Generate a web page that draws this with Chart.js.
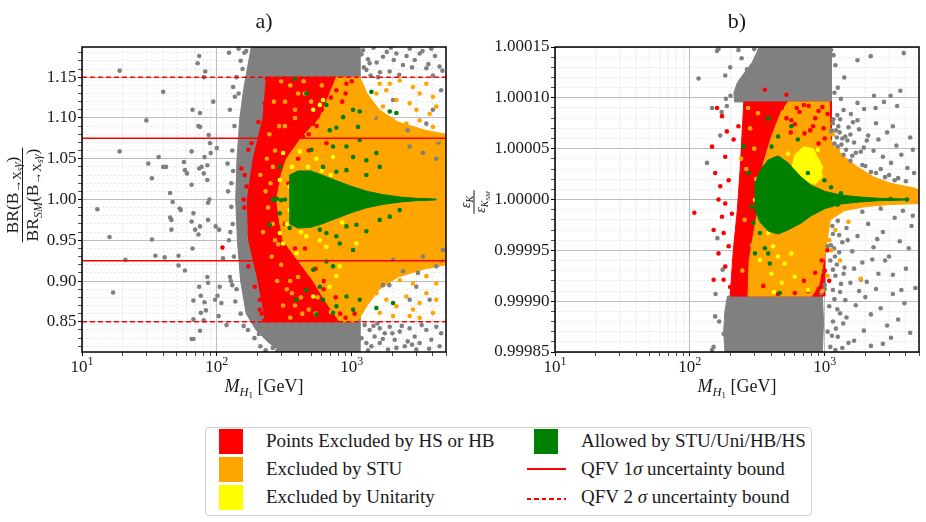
<!DOCTYPE html>
<html>
<head>
<meta charset="utf-8">
<title>BR(B→Xsγ) and εK ratios vs M_H1</title>
<script src="https://cdn.jsdelivr.net/npm/chart.js@4.4.1/dist/chart.umd.min.js"></script>
<style>
  html, body { margin: 0; padding: 0; background: #fff; }
  body { position: relative; width: 926px; height: 522px; overflow: hidden;
         font-family: 'Liberation Serif', 'DejaVu Serif', serif; color: #1a1a1a; }
  .panel { position: absolute; top: 0; height: 410px; }
  #legend { position: absolute; left: 205px; top: 427px; width: 607px; height: 89px;
            box-sizing: border-box; border: 1px solid #d0d0d0; border-radius: 4px; }
  .sw { position: absolute; width: 24px; height: 25px; }
  .lab { position: absolute; font-size: 19px; line-height: 22px; white-space: nowrap; }
  .smp { position: absolute; width: 39px; height: 1.6px; }
</style>
</head>
<body>
<div class="panel" style="left:0;width:460px"><canvas id="chartA"></canvas></div>
<div class="panel" style="left:460px;width:466px"><canvas id="chartB"></canvas></div>

<div id="legend"></div>
<div class="sw" style="left:219px;top:429px;background:#ff0000"></div>
<div class="sw" style="left:219px;top:457px;background:#ffa500"></div>
<div class="sw" style="left:219px;top:485px;background:#ffff00"></div>
<div class="sw" style="left:534px;top:429px;background:#008000"></div>
<div class="smp" style="left:527px;top:468px;background:#ff0000"></div>
<div class="smp" style="left:527px;top:498px;background:repeating-linear-gradient(90deg,#ff0000 0 4.5px,transparent 4.5px 7.5px)"></div>
<div class="lab" style="left:266px;top:430px">Points Excluded by HS or HB</div>
<div class="lab" style="left:266px;top:458px">Excluded by STU</div>
<div class="lab" style="left:266px;top:486px">Excluded by Unitarity</div>
<div class="lab" style="left:581px;top:430px">Allowed by STU/Uni/HB/HS</div>
<div class="lab" style="left:581px;top:458px">QFV 1<i>σ</i> uncertainty bound</div>
<div class="lab" style="left:581px;top:486px">QFV 2 <i>σ</i> uncertainty bound</div>

<script>
const SERIF = "'Liberation Serif', 'DejaVu Serif', serif";
Chart.defaults.font.family = SERIF;
Chart.defaults.color = '#1a1a1a';
const C_GRAY = '#808080', C_RED = '#ff0000', C_ORANGE = '#ffa500', C_YELLOW = '#ffff00', C_GREEN = '#008000';

// shared x axis: M_H1 in GeV, log scale
const xRange = [10, 5000];
const xTickValues = [10, 20, 30, 40, 50, 60, 70, 80, 90, 100, 200, 300, 400, 500, 600, 700, 800, 900,
                     1000, 2000, 3000, 4000, 5000];
const xMajorValues = [10, 100, 1000];
const xMajorExponents = ['1', '2', '3'];   // labels 10^1, 10^2, 10^3

// ---------- panel a) : BR(B->Xs gamma) / BR_SM ----------
const yRangeA = [0.813, 1.187];
const yGridA = [0.82, 0.83, 0.84, 0.85, 0.86, 0.87, 0.88, 0.89, 0.90, 0.91, 0.92, 0.93, 0.94, 0.95, 0.96,
                0.97, 0.98, 0.99, 1.00, 1.01, 1.02, 1.03, 1.04, 1.05, 1.06, 1.07, 1.08, 1.09, 1.10, 1.11,
                1.12, 1.13, 1.14, 1.15, 1.16, 1.17, 1.18];
const yMajorA = [0.85, 0.90, 0.95, 1.00, 1.05, 1.10, 1.15];
const yLabelsA = ['0.85', '0.90', '0.95', '1.00', '1.05', '1.10', '1.15'];
const qfv1A = [0.925, 1.075];
const qfv2A = [0.85, 1.15];

// outlines of the regions that are solid with points
const grayBandA = [[180,1.187],[1150,1.187],[1150,0.813],[300,0.813],[240,0.825],[195,0.84],[165,0.86],
  [150,0.9],[142,0.95],[138,1.0],[141,1.05],[148,1.1],[158,1.135],[168,1.16]];
const redZoneA = [[233,1.15],[1000,1.15],[1000,0.85],[230,0.85],[202,0.9],[172,0.95],[168,1.0],
  [186,1.05],[220,1.1]];
const orangeZoneA = [[277,1.0],[300,1.03],[328,1.05],[420,1.075],[580,1.1],[769,1.15],[1150,1.15],
  [1300,1.13],[1600,1.11],[2200,1.095],[3500,1.085],[5000,1.08],[5000,0.92],[3500,0.915],[2200,0.905],
  [1600,0.89],[1300,0.87],[1100,0.85],[815,0.85],[640,0.875],[518,0.9],[400,0.925],[309,0.95],[290,0.975]];
const greenZoneA = [[347,1.03],[400,1.035],[500,1.035],[600,1.03],[800,1.022],[1000,1.016],[1300,1.01],
  [1700,1.006],[2300,1.003],[3000,1.0015],[4200,1.0006],[4200,0.9994],[3000,0.9985],[2300,0.997],
  [1700,0.994],[1300,0.99],[1000,0.984],[800,0.978],[600,0.97],[500,0.966],[400,0.965],[347,0.97]];

// single points
const grayLeftA = [[19,1.158],[40,1.132],[30,1.097],[19,1.059],[13,0.988],[16,0.954],[21,0.926],[17,0.886],
  [31,1.044],[33,1.026],[37,1.052],[40,1.040],[42,1.040],[33,0.951],[35,0.931],[41,0.929],[45,1.008],
  [45,0.978],[46,0.975],[46,0.963],[47,0.997],[52,0.919],[52,0.931],[53,0.989],[54,0.987],[57,1.046],
  [58,1.036],[60,1.032],[65,1.018],[65,1.059],[66,1.110],[67,0.983],[65,0.973],[58,0.913],[66,0.940],
  [69,0.963],[67,0.876],[67,0.853],[67,0.829],[65,0.829],[72,1.167],[74,1.176],[75,1.106],[73,1.090],
  [75,1.089],[77,1.040],[74,1.038],[73,0.957],[75,0.967],[74,0.893],[76,0.882],[76,0.861],[75,0.839],
  [80,1.032],[81,1.052],[82,1.157],[80,1.150],[85,1.042],[85,1.024],[86,0.975],[88,1.000],[86,0.996],
  [85,0.905],[86,0.898],[87,1.079],[89,1.069],[90,1.057],[81,0.874],[83,0.864],[80,0.852],[100,1.063],
  [94,1.120],[98,0.967],[104,0.963],[105,0.893],[101,0.882],[97,0.877],[108,0.873],[103,0.857],[118,0.846],
  [123,1.180],[120,1.044],[121,1.010],[123,0.950],[111,0.928],[125,0.905],[130,0.895],[132,1.138],
  [136,1.126],[128,0.991]];
const grayEdgeA = [[160,1.18],[150,1.17],[155,1.16],[145,1.13],[135,1.09],[130,1.06],[128,1.02],[131,0.97],
  [134,0.93],[140,0.89],[150,0.86],[170,0.84],[190,0.83],[210,0.82],[230,0.815],[260,0.818],[280,0.814],
  [125,1.11],[127,0.9],[140,1.15],[145,1.185],[165,1.182],[132,1.035],[126,0.96],[137,0.875],[158,0.845],
  [205,0.835],[250,0.83]];
const grayTopA = [[1213,1.183],[1358,1.167],[1706,1.175],[1910,1.157],[2142,1.179],[2400,1.165],[2690,1.185],
  [2930,1.171],[3190,1.179],[3575,1.161],[3890,1.185],[4000,1.152],[4480,1.163],[1566,1.150],[1285,1.159],
  [1180,1.178],[1230,1.162],[1320,1.172],[1450,1.186],[1530,1.168],[1620,1.156],[1820,1.181],[2050,1.171],
  [2250,1.153],[2550,1.176],[2800,1.162],[3350,1.182],[3700,1.166],[4150,1.176],[4700,1.158],[1380,1.152],
  [1950,1.186]];
const grayBottomA = [[1247,0.846],[1358,0.840],[1479,0.832],[1614,0.824],[1758,0.836],[1914,0.844],
  [2084,0.828],[2270,0.838],[2472,0.820],[2690,0.842],[2930,0.832],[3190,0.824],[3575,0.840],[3890,0.828],
  [4236,0.844],[4484,0.820],[1614,0.842],[2143,0.818],[1858,0.816],[3013,0.816],[1284,0.824],[1400,0.820],
  [1180,0.830],[1320,0.815],[1550,0.848],[1700,0.829],[2000,0.836],[2350,0.845],[2600,0.826],[3300,0.846],
  [3750,0.817],[4600,0.836],[1450,0.845],[2800,0.822]];
const grayMixA = [[1706,0.895],[2025,0.926],[2400,0.912],[3013,0.893],[3783,0.877],[4236,0.918],[4750,0.938],
  [3370,0.930],[2690,0.877],[2690,1.065],[3370,1.057],[4236,1.050],[3575,1.093],[2025,1.122],[4000,1.110],
  [4600,1.134],[1500,1.10],[2600,1.085],[1900,0.895],[3100,0.91],[4400,1.07],[4600,0.925]];
const redDotsA = [[110,0.941],[152,1.038],[161,1.030],[171,1.061],[181,1.069],[203,1.095],[227,1.118],
  [247,1.146],[166,1.016],[191,1.024],[186,0.983],[175,0.959],[171,0.918],[191,0.893],[208,0.877],
  [208,0.865],[580,1.142],[769,1.134],[914,1.142],[649,1.069],[518,1.093],[437,1.077],[347,1.089],
  [560,0.87],[700,0.86],[900,0.855],[450,0.9],[620,0.89],[380,0.94],[320,0.97],[340,1.02],[400,1.05],
  [480,1.08],[850,1.12],[1000,1.145],[235,1.148],[225,0.852],[215,0.86],[160,0.99],[158,1.0],
  [600,1.11],[700,1.125],[550,1.09],[480,1.06],[620,0.9],[760,0.88],[820,0.86],[540,0.915],[450,0.94],
  [900,1.13],[680,1.145],[1050,0.86]];
const orangeInnerA = [[250,1.02],[260,0.97],[270,1.06],[290,1.09],[320,1.12],[350,1.14],[300,0.92],
  [330,0.89],[380,0.87],[430,0.86],[240,0.99],[380,1.11],[450,1.13],[260,1.04],[350,0.9],[230,1.01],
  [285,0.945],[400,0.905],[500,1.12],[600,1.14],[700,0.862],[560,0.88],
  [210,1.03],[220,0.96],[245,1.08],[265,1.12],[300,1.145],[255,0.93],[280,0.9],[310,0.87],[350,0.855],
  [235,1.05],[270,0.95],[400,1.13],[320,1.09],[290,1.005],[360,0.885],[420,0.88],[480,0.865],[380,1.1],
  [440,1.145],[540,0.86]];
const orangeUpperA = [[1612,1.142],[1806,1.134],[2270,1.146],[2847,1.138],[3190,1.130],[3575,1.142],
  [4000,1.126],[4236,1.114],[2690,1.118],[2143,1.122],[1706,1.114],[1440,1.101],[2025,1.097],[2543,1.093],
  [3190,1.097],[4000,1.089],[4362,1.073],[2847,1.077],[1806,1.081],[2270,1.069],[3575,1.061],[1524,1.130],
  [1914,1.142],[3013,1.110],[3783,1.105]];
const orangeLowerA = [[1284,0.897],[1524,0.885],[1806,0.877],[2143,0.869],[2543,0.881],[2847,0.865],
  [3190,0.873],[3575,0.885],[4000,0.861],[4236,0.877],[1612,0.861],[2025,0.857],[2690,0.857],[3190,0.855],
  [1440,0.914],[1806,0.906],[2270,0.901],[2847,0.897],[3575,0.906],[4236,0.897],[2270,0.918],[2847,0.922],
  [3783,0.918],[4484,0.926],[1612,0.922]];
const yellowDotsA = [[518,1.110],[613,1.122],[310,1.057],[412,1.059],[475,1.040],[518,1.032],[580,1.116],
  [293,1.024],[727,1.052],[400,1.024],[347,1.016],[547,1.050],[347,0.987],[412,0.975],[293,0.959],
  [461,0.955],[580,0.950],[649,0.942],[769,0.906],[687,0.893],[518,0.881],[815,0.918],[1084,0.946],
  [310,0.946],[389,0.934],[360,1.04],[330,0.97],[420,0.96],[700,1.03],[850,0.972],[600,1.035]];
const greenDotsA = [[378,1.148],[461,1.130],[649,1.116],[1400,1.132],[863,1.101],[1023,1.110],[1146,1.108],
  [687,1.085],[769,1.088],[1114,1.089],[502,1.061],[613,1.040],[727,1.065],[914,1.065],[1146,1.073],
  [1023,1.052],[1284,1.048],[1524,1.057],[1612,1.040],[1914,1.108],[2143,1.106],[293,1.040],[769,1.034],
  [914,1.036],[1284,1.030],[580,1.028],
  [247,0.969],[293,0.983],[347,0.965],[461,0.971],[518,0.975],[580,0.963],[649,0.959],[769,0.955],
  [914,0.967],[1084,0.969],[1284,0.961],[1612,0.975],[1914,0.979],[2270,0.987],[815,0.946],[1023,0.938],
  [649,0.924],[518,0.914],[727,0.918],[461,0.889],[580,0.893],[613,0.877],[769,0.869],[914,0.881],
  [1023,0.865],[1146,0.877],[1524,0.867],[2025,0.873],[727,0.861],[547,0.859],[389,0.877],
  [260,1.0],[280,1.001],[300,0.999],[320,1.0],[270,0.9995]];

// ---------- panel b) : eps_K / eps_K,SM, stored as (ratio - 1) x 1e5 ----------
const yRangeB = [-15, 15];
const yGridB = [-15,-14,-13,-12,-11,-10,-9,-8,-7,-6,-5,-4,-3,-2,-1,0,1,2,3,4,5,6,7,8,9,10,11,12,13,14,15];
const yMajorB = [-15, -10, -5, 0, 5, 10, 15];
const yLabelsB = ['0.99985', '0.99990', '0.99995', '1.00000', '1.00005', '1.00010', '1.00015'];

const grayTopZoneB = [[325,15],[1120,15],[1120,9.6],[215,9.6],[212,10.5],[225,11.5],[255,12.5],[290,13.5],
  [315,14.5]];
const grayBottomZoneB = [[190,-9.5],[960,-9.5],[980,-12],[960,-15],[182,-15],[178,-13],[182,-11]];
const redZoneB = [[251,9.6],[1120,9.6],[1120,5],[1050,2],[1000,-2],[1000,-9.5],[199,-9.5],[205,-7],
  [210,-5],[225,-1],[236,3],[245,7]];
const orangeZoneB = [[270,-9.5],[800,-9.5],[900,-8.5],[1000,-5.5],[1100,-2],[1400,-1.1],[2000,-0.7],
  [3000,-0.5],[5000,-0.4],[5000,0.9],[4700,1.1],[3076,1.6],[2318,2.2],[1750,3.2],[1396,4.2],[1178,5.2],
  [1100,6],[1080,9.6],[535,9.6],[478,8.7],[403,6.2],[350,3.5],[330,0],[300,-3],[275,-6]];
const yellowZoneB = [[560,2.6],[600,4.4],[700,5.2],[820,5.0],[930,3.6],[960,2.2],[850,1.5],[700,1.8]];
const greenZoneB = [[304,1.5],[330,2.8],[381,3.9],[451,4.3],[534,3.6],[670,2.2],[794,1.4],[1000,0.8],
  [1300,0.45],[1800,0.25],[2500,0.12],[4000,0.05],[4000,-0.05],[2500,-0.12],[1800,-0.25],[1300,-0.45],
  [1000,-0.9],[794,-1.6],[670,-2.3],[534,-3.0],[451,-3.4],[381,-3.1],[330,-2.2],[304,-1.0]];

const grayTopB = [[116,11.9],[163,14.8],[183,12.2],[159,14.6],[229,14.7],[199,13.0],[242,13.9],[1114,14.7],
  [1750,13.7],[2193,14.1],[2318,10.2],[2748,9.6],[3076,10.2],[3640,10.7],[3854,14.4],[1396,12.0],
  [1318,9.9],[1564,8.4],[1750,9.5],[1959,8.9],[3443,9.2],[2384,9.0],[1200,13.2],[1250,11.0],[1180,10.5],
  [1160,14.2],[300,14.8],[265,12.8],[200,10.2],[185,9.9]];
const grayLeftB = [[146,9.0],[134,3.6],[155,-9.3],[165,-12],[150,-14.5],[146,-14.8],[178,-13.2],[154,-11.5],
  [172,8.6],[168,6.3],[160,-3.8],[175,-6.9],[188,9.2]];
const grayRightB = [[1150,7.5],[1210,6.8],[1300,7.9],[1420,6.2],[1500,7.1],[1650,5.6],[1800,6.9],[1950,5.1],
  [2100,6.3],[2300,4.8],[2500,5.9],[2700,4.2],[2900,6.6],[3100,3.6],[3400,5.3],[3700,4.4],[4100,3.1],
  [4500,4.9],[1250,5.2],[1380,4.4],[1550,3.8],[1700,4.6],[2000,3.3],[2200,2.7],[2600,3.0],[3000,2.4],
  [3500,2.1],[4000,1.8],[4600,2.6],[1600,4.3],[1900,3.4],[2400,2.6],[2800,2.2],[3300,1.9],[1350,6.0],
  [1750,7.8],[2400,7.5],[3200,7.2],[4300,6.1],[1130,6.6],[1120,6.8],[1180,5.5],[1230,6.1],[1330,5.4],
  [1470,5.8],[1260,7.2],[1160,7.9],[1240,8.3],[1380,8.8],[1290,6.6],[1550,6.4],[1620,7.6],[1440,4.9],
  [1850,4.7],[2050,5.8],
  [1050,-4.6],[1150,-3.4],[1250,-2.1],[1350,-4.2],[1450,-2.8],[1600,-5.1],[1750,-3.6],[1900,-6.2],
  [2100,-2.4],[2300,-4.7],[2500,-7.3],[2700,-3.2],[3000,-5.6],[3300,-1.8],[3600,-4.1],[4000,-6.8],
  [4400,-2.6],[4700,-8.7],[1100,-6.0],[1200,-7.5],[1300,-9.1],[1400,-6.7],[1550,-8.2],[1700,-10.4],
  [1850,-7.9],[2000,-9.6],[2200,-11.3],[2400,-8.8],[2600,-10.7],[2900,-12.4],[3200,-9.3],[3500,-11.8],
  [3900,-10.2],[4300,-13.1],[1080,-10.5],[1150,-12.0],[1250,-13.5],[1450,-11.6],[1650,-13.9],
  [1950,-12.9],[2700,-14.2],[3100,-13.6],[1900,-1.2],[2600,-0.9],[3800,-1.1],[4500,-1.6],[1000,-8.4],
  [1100,-14.5],[1350,-14.6],[2200,-14.4],[1110,-4.5],[1190,-5.6],[1280,-3.5],[1380,-7.3],[1180,-9.8],
  [1300,-11.2],[980,-7],[1000,-8.8],[940,-9.2],[1140,-2.6],[1170,-4.8],[1230,-6.4],[1320,-8.3],
  [1420,-9.9],[1150,-8.9],[1240,-10.8],[1210,-12.7],[1370,-12.2],[1500,-14.1],[1130,-13.4],[1150,-6.9],
  [1280,-5.2],[1480,-4.0],[1650,-6.8],[1800,-9.0],[2050,-8.1],[2250,-5.9],[2450,-3.9],[2800,-6.0],
  [3200,-7.4],[3700,-8.9],[4200,-4.8],[1050,-13.0],[1200,-14.8]];
const redDotsB = [[159,9.0],[173,8.2],[146,5.2],[183,4.2],[154,2.6],[168,1.3],[183,-0.4],[163,0],[173,-1.7],
  [150,-3.0],[178,-3.3],[194,-4.6],[163,-5.3],[183,-6.6],[178,-7.9],[150,-7.9],[199,-8.6],[205,-9.2],
  [108,-1.3],[211,5.9],[194,1.9],[205,-1.4],[217,-5.6],[229,7.2],[188,6.7],[360,10.8],[520,10.3],
  [451,8.8],[565,7.8],[708,6.5],[620,9.0],[850,8.0],[980,7.0],[700,9.3],[900,5.5],[1000,-7],[900,-8.8],
  [750,-9.0],[950,-6.0],[600,-9.2],[1050,-5],[1080,-8],
  [480,9.0],[520,8.0],[600,7.4],[650,8.6],[760,9.2],[820,7.2],[900,8.7],[960,9.1],[1050,8.4],[1000,6.0],
  [780,6.8],[560,6.6],[350,-8.5],[450,-9.3],[700,-8.0],[850,-7.2]];
const orangeDotsB = [[280,7],[300,5],[262,3],[255,-2],[245,-7],[320,8.5],[290,-4.5],[270,9],[310,2],[240,4],
  [1849,-7.8],[1300,-6],[1250,4.8],[1120,-5],[1050,-7.5],[1200,-3],[1500,-2.2],[1150,6.4],[960,-9.0],
  [1080,-4.0]];
const yellowDotsB = [[322,1.3],[304,-0.05],[360,-1.7],[381,-3.3],[415,-4.6],[451,-5.6],[331,-5.95],[403,-7.3],
  [505,-6.3],[565,-5.3],[750,-8.9],[889,4.9],[940,3.2],[534,4.5],[632,3.6],[794,1.9],[480,-8.2],[420,-9.1],
  [600,-7.6]];
const greenDotsB = [[250,5.2],[272,2.6],[287,-0.7],[296,-2.3],[331,-3.3],[360,-4.8],[392,-6.3],[304,-5.3],
  [381,8.0],[565,7.2],[632,5.9],[750,2.6],[995,1.9],[1114,1.2],[1318,0.6],[1750,0.1],[451,6.2],[403,5.2],
  [381,-5.3],[464,-9.2],[889,0.9],[1247,-0.5],[3076,0.05],[4075,0]];

// ---------- helpers ----------
const toXY = arr => arr.map(p => ({ x: p[0], y: p[1] }));

function zone(arr, color, order) {
  const data = toXY(arr);
  data.push(data[0]);
  return { type: 'line', data, fill: 'shape', backgroundColor: color, borderColor: color,
           borderWidth: 1, pointRadius: 0, tension: 0, order };
}

function dots(arr, color, order) {
  return { data: toXY(arr), backgroundColor: color, pointRadius: 2.3, pointBorderWidth: 0,
           pointHoverRadius: 2.3, showLine: false, order };
}

function hline(y, dash) {
  return { type: 'line', data: [{ x: xRange[0], y }, { x: xRange[1], y }], borderColor: C_RED,
           borderWidth: 1.5, borderDash: dash, pointRadius: 0, fill: false, order: 1 };
}

const isMaj = c => c.tick && c.tick.isMajor;
const tickFont = { family: 'Liberation Serif', size: 17 };

function axisX() {
  return {
    type: 'logarithmic', min: xRange[0], max: xRange[1],
    afterBuildTicks: s => { s.ticks = xTickValues.map(v => ({ value: v, isMajor: xMajorValues.includes(v) })); },
    afterFit: s => { s.height = 58; },
    // labels 10^n are drawn by the decor plugin so the exponent can be raised
    ticks: { autoSkip: false, maxRotation: 0, minRotation: 0, padding: 2, font: tickFont, callback: () => '' },
    grid: { color: c => isMaj(c) ? '#bdbdbd' : '#e3e3e3', lineWidth: c => isMaj(c) ? 1 : 0.8,
            tickLength: 4, tickColor: '#000', tickWidth: c => isMaj(c) ? 1 : 0.7 },
    border: { display: false, dash: c => isMaj(c) ? [] : [2, 2] }
  };
}

function axisY(range, grid, major, labels, width) {
  return {
    type: 'linear', min: range[0], max: range[1],
    afterBuildTicks: s => { s.ticks = grid.map(v => ({ value: v, isMajor: major.includes(v) })); },
    afterFit: s => { s.width = width; },
    ticks: { autoSkip: false, padding: 1.5, color: '#1a1a1a', font: tickFont,
             callback: v => { const i = major.indexOf(v); return i >= 0 ? labels[i] : ''; } },
    grid: { color: c => isMaj(c) ? '#bdbdbd' : '#e3e3e3', lineWidth: c => isMaj(c) ? 1 : 0.8,
            tickLength: 4, tickColor: '#000', tickWidth: c => isMaj(c) ? 1 : 0.7 },
    border: { display: false, dash: c => isMaj(c) ? [] : [2, 2] }
  };
}

// rich text: [text, size, dy, italic]
function fontOf(p) { return (p[3] ? 'italic ' : '') + p[1] + 'px ' + SERIF; }
function richWidth(ctx, parts) {
  let w = 0;
  parts.forEach(p => { ctx.font = fontOf(p); w += ctx.measureText(p[0]).width; });
  return w;
}
function drawRich(ctx, parts, cx, y) {
  let x = cx - richWidth(ctx, parts) / 2;
  parts.forEach(p => { ctx.font = fontOf(p); ctx.fillText(p[0], x, y + p[2]); x += ctx.measureText(p[0]).width; });
}

const xTitleParts = [['M', 18, 0, true], ['H', 12.5, 3.5, true], ['1', 9, 6, false], [' [GeV]', 18, 0, false]];
const decorCfg = {
  chartA: { title: 'a)', barX: 22.5, barY: 195, numBase: -5, denBase: 15,
    num: [['BR(B', 17.5, 0, false], ['→X', 12.5, 3.5, false], ['s', 9.5, 5.5, true], ['γ', 12.5, 3.5, true], [')', 17.5, 0, false]],
    den: [['BR', 17.5, 0, false], ['SM', 12, 4, true], ['(B', 17.5, 0, false], ['→X', 12.5, 3.5, false],
          ['s', 9.5, 5.5, true], ['γ', 12.5, 3.5, true], [')', 17.5, 0, false]] },
  chartB: { title: 'b)', barX: 14, barY: 202, numBase: -4, denBase: 11,
    num: [['ε', 14, 0, true], ['K', 10, 3, true]],
    den: [['ε', 14, 0, true], ['K', 10, 3, true], ['SM', 7, 5, true]] }
};

const decor = {
  id: 'decor',
  afterDatasetsDraw(chart) {
    const { ctx, chartArea: a } = chart;
    ctx.save();
    ctx.strokeStyle = '#000';
    ctx.lineWidth = 1.5;
    ctx.strokeRect(a.left, a.top, a.right - a.left, a.bottom - a.top);
    ctx.restore();
  },
  afterDraw(chart) {
    const cfg = decorCfg[chart.canvas.id];
    const { ctx, chartArea: a } = chart;
    const cx = (a.left + a.right) / 2;
    ctx.save();
    ctx.fillStyle = '#1a1a1a';
    ctx.textBaseline = 'alphabetic';
    ctx.textAlign = 'left';
    // decade labels 10^n on the log axis
    xMajorValues.forEach((v, i) => {
      const px = chart.scales.x.getPixelForValue(v);
      drawRich(ctx, [['10', 17, 0, false], [xMajorExponents[i], 12, -7, false]], px, 372);
    });
    drawRich(ctx, [[cfg.title, 22, 0, false]], cx, 28);
    drawRich(ctx, xTitleParts, cx, 392);
    ctx.translate(cfg.barX, cfg.barY);
    ctx.rotate(-Math.PI / 2);
    const w = Math.max(richWidth(ctx, cfg.num), richWidth(ctx, cfg.den)) + 2;
    drawRich(ctx, cfg.num, 0, cfg.numBase);
    ctx.fillRect(-w / 2, -0.5, w, 1);
    drawRich(ctx, cfg.den, 0, cfg.denBase);
    ctx.restore();
  }
};

function makeChart(id, datasets, yAxis, padRight) {
  return new Chart(document.getElementById(id), {
    type: 'scatter',
    data: { datasets },
    options: {
      responsive: true, maintainAspectRatio: false, animation: false, events: [],
      layout: { padding: { left: 0, right: padRight, top: 47, bottom: 0 } },
      plugins: { legend: { display: false }, tooltip: { enabled: false } },
      scales: { x: axisX(), y: yAxis }
    },
    plugins: [decor]
  });
}

makeChart('chartA', [
  zone(grayBandA, C_GRAY, 30),
  zone(redZoneA, C_RED, 29),
  zone(orangeZoneA, C_ORANGE, 28),
  dots([...grayLeftA, ...grayEdgeA, ...grayTopA, ...grayBottomA, ...grayMixA], C_GRAY, 27),
  dots(redDotsA, C_RED, 26),
  dots([...orangeInnerA, ...orangeUpperA, ...orangeLowerA], C_ORANGE, 25),
  dots(yellowDotsA, C_YELLOW, 23),
  zone(greenZoneA, C_GREEN, 22),
  dots(greenDotsA, C_GREEN, 21),
  hline(qfv1A[0], []), hline(qfv1A[1], []),
  hline(qfv2A[0], [5, 3]), hline(qfv2A[1], [5, 3])
], axisY(yRangeA, yGridA, yMajorA, yLabelsA, 82), 14);

makeChart('chartB', [
  zone(grayTopZoneB, C_GRAY, 31),
  zone(grayBottomZoneB, C_GRAY, 30),
  zone(redZoneB, C_RED, 29),
  zone(orangeZoneB, C_ORANGE, 28),
  dots([...grayTopB, ...grayLeftB, ...grayRightB], C_GRAY, 27),
  dots(redDotsB, C_RED, 26),
  dots(orangeDotsB, C_ORANGE, 25),
  zone(yellowZoneB, C_YELLOW, 24),
  dots(yellowDotsB, C_YELLOW, 23),
  zone(greenZoneB, C_GREEN, 22),
  dots(greenDotsB, C_GREEN, 21)
], axisY(yRangeB, yGridB, yMajorB, yLabelsB, 95), 7);
</script>
</body>
</html>
